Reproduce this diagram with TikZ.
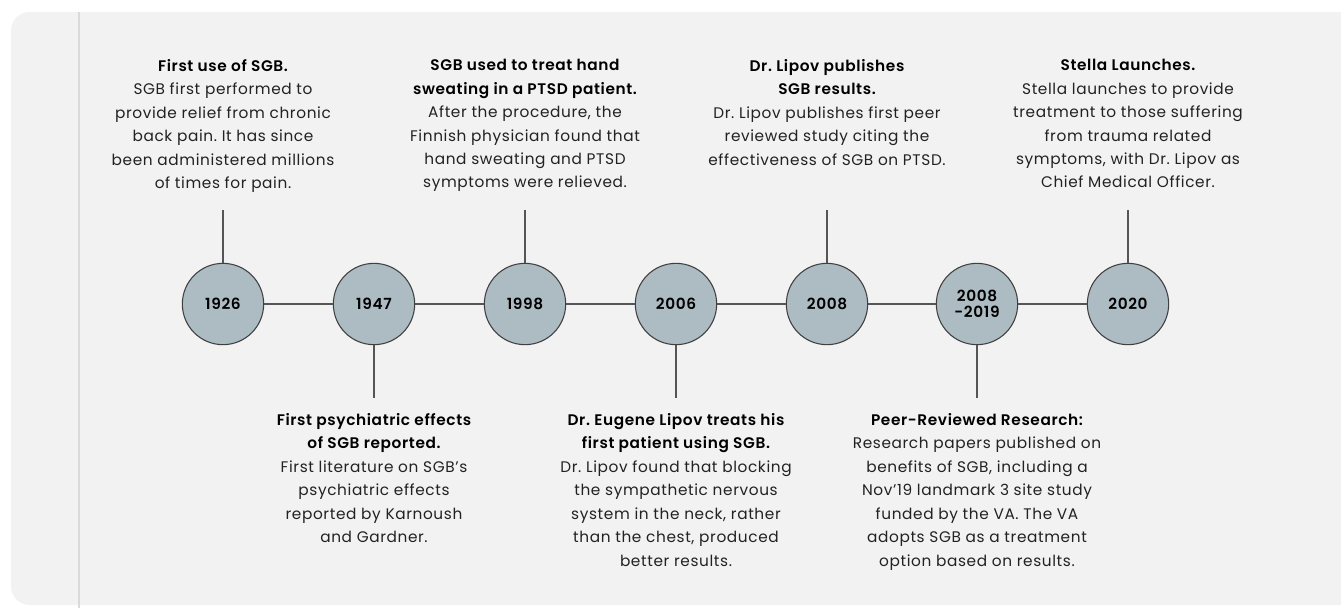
\documentclass[tikz,border=0pt]{standalone}
\usepackage{fontspec}
\setmainfont{Poppins}[LetterSpace=4,BoldFont={Poppins SemiBold}]
\frenchspacing
\definecolor{bgpanel}{HTML}{F2F2F2}
\definecolor{circfill}{HTML}{ADBBC2}
\definecolor{circline}{HTML}{404040}
\definecolor{stemline}{HTML}{555555}
\definecolor{bodytext}{HTML}{222222}
\definecolor{sepline}{HTML}{DADADA}
\begin{document}
\begin{tikzpicture}[x=0.75pt,y=-0.75pt,
  yearnode/.style={circle,draw=circline,line width=0.8pt,fill=circfill,minimum size=61pt,inner sep=0pt,
    font=\fontsize{11.5}{13}\selectfont\bfseries,align=center,text=black},
  stemline/.style={draw=stemline,line width=0.8pt},
  desc/.style={align=center,inner sep=0pt,text=bodytext,font=\fontsize{11.5}{17.6}\selectfont}]
\useasboundingbox (0,0) rectangle (1341,608);
\fill[white] (0,0) rectangle (1341,608);
\fill[bgpanel,rounded corners=14pt] (11,12) rectangle (1380,605);
\draw[sepline,line width=0.8pt] (79,12) -- (79,608);
% timeline
\foreach \n/\x/\t in {a/223/1926,b/374/1947,c/525/1998,d/676/2006,e/827/2008,g/1128/2020}
  \node[yearnode] (\n) at (\x,304) {\t};
\node[yearnode] (f) at (977,304) {2008\\[-1pt]-2019};
\draw[stemline] (a) -- (b) (b) -- (c) (c) -- (d) (d) -- (e) (e) -- (f) (f) -- (g);
% stems
\coordinate (ta) at (223,210);
\coordinate (tc) at (525,210);
\coordinate (te) at (827,210);
\coordinate (tg) at (1128,210);
\coordinate (bb) at (374,398);
\coordinate (bd) at (676,398);
\coordinate (bf) at (977,398);
\draw[stemline] (ta) -- (a.north) (tc) -- (c.north) (te) -- (e.north) (tg) -- (g.north);
\draw[stemline] (bb) -- (b.south) (bd) -- (d.south) (bf) -- (f.south);
% texts
\node[desc,anchor=north] (txa) at (223,59) {\textbf{\color{black}First use of SGB.}\\SGB first performed to\\provide relief from chronic\\back pain. It has since\\been administered millions\\of times for pain.};
\node[desc,anchor=north] (txc) at (525,59) {\textbf{\color{black}SGB used to treat hand}\\\textbf{\color{black}sweating in a PTSD patient.}\\After the procedure, the\\Finnish physician found that\\hand sweating and PTSD\\symptoms were relieved.};
\node[desc,anchor=north] (txe) at (827,59) {\textbf{\color{black}Dr. Lipov publishes}\\\textbf{\color{black}SGB results.}\\Dr. Lipov publishes first peer\\reviewed study citing the\\effectiveness of SGB on PTSD.};
\node[desc,anchor=north] (txg) at (1128,59) {\textbf{\color{black}Stella Launches.}\\Stella launches to provide\\treatment to those suffering\\from trauma related\\symptoms, with Dr. Lipov as\\Chief Medical Officer.};
\node[desc,anchor=north] (txb) at (374,413) {\textbf{\color{black}First psychiatric effects}\\\textbf{\color{black}of SGB reported.}\\First literature on SGB’s\\psychiatric effects\\reported by Karnoush\\and Gardner.};
\node[desc,anchor=north] (txd) at (676,413) {\textbf{\color{black}Dr. Eugene Lipov treats his}\\\textbf{\color{black}first patient using SGB.}\\Dr. Lipov found that blocking\\the sympathetic nervous\\system in the neck, rather\\than the chest, produced\\better results.};
\node[desc,anchor=north] (txf) at (977,413) {\textbf{\color{black}Peer-Reviewed Research:}\\Research papers published on\\benefits of SGB, including a\\Nov’19 landmark 3 site study\\funded by the VA. The VA\\adopts SGB as a treatment\\option based on results.};
\end{tikzpicture}
\end{document}
